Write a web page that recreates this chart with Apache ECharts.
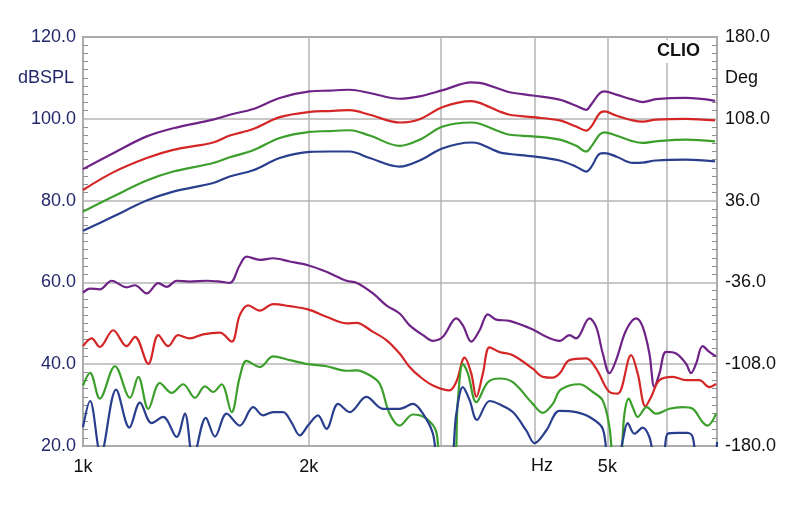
<!DOCTYPE html>
<html>
<head>
<meta charset="utf-8">
<script src="https://cdn.jsdelivr.net/npm/echarts@6/dist/echarts.min.js"></script>
<style>
  html, body { margin: 0; padding: 0; background: #fff; }
  #mChart { width: 800px; height: 505px; }
</style>
</head>
<body>
<div id="mChart"></div>
<script>
// frequency points (Hz) for the four response curves
var freqResp = [1000, 1097, 1216, 1319, 1491, 1569, 1686, 1829, 2006, 2133, 2267, 2411, 2643, 2810, 3018, 3293,
  3378, 3591, 3703, 3977, 4317, 4543, 4685, 4758, 4880, 4956, 5136, 5405, 5573, 5806, 6366, 6960];
// response curves, dBSPL
var respPurple = [87.7, 91.6, 95.7, 97.7, 99.8, 101.0, 102.4, 105.1, 106.7, 106.9, 107.1, 106.3, 104.9, 105.5, 107.0, 108.9,
  108.8, 107.3, 106.5, 105.7, 104.7, 103.2, 102.2, 103.5, 106.2, 106.7, 105.9, 104.7, 104.1, 104.8, 105.1, 104.4];
var respRed = [82.6, 86.9, 90.4, 92.4, 94.2, 95.9, 97.5, 100.4, 101.7, 101.9, 102.1, 101.0, 99.1, 99.9, 102.9, 104.3,
  103.9, 101.8, 101.0, 100.4, 99.6, 98.1, 97.1, 98.1, 101.3, 101.8, 100.8, 99.6, 99.3, 99.8, 100.0, 99.6];
var respGreen = [77.3, 81.0, 84.9, 87.1, 89.2, 90.6, 92.3, 95.3, 96.8, 97.0, 97.2, 95.9, 93.4, 94.9, 98.1, 99.1,
  98.8, 96.9, 96.1, 95.7, 94.9, 93.4, 92.0, 93.2, 96.1, 96.7, 95.9, 94.5, 94.1, 94.5, 94.9, 94.5];
var respBlue = [72.6, 76.1, 80.0, 82.2, 84.3, 85.9, 87.4, 90.4, 91.9, 92.0, 92.0, 90.4, 88.3, 89.8, 92.8, 94.2,
  93.9, 91.8, 91.4, 90.8, 89.8, 88.3, 87.1, 88.2, 91.4, 91.6, 90.8, 89.2, 89.3, 89.8, 90.0, 89.6];

// lower curves: [Hz, dB]
var lowPurple = [[1000,57.5],[1022,58.5],[1053,58.3],[1092,60.4],[1143,58.8],[1173,59.3],[1216,57.3],[1260,59.8],
  [1293,58.9],[1333,60.4],[1388,60.2],[1461,60.4],[1522,60.2],[1569,59.9],[1618,64.2],[1652,66.3],[1721,65.5],
  [1792,65.9],[1886,65.1],[1995,64.2],[2111,62.6],[2245,60.4],[2315,59.9],[2435,57.3],[2537,54.4],[2643,52.4],
  [2725,49.5],[2839,47.1],[2927,45.7],[3018,46.7],[3145,51.2],[3209,49.5],[3293,45.5],[3378,48.3],[3465,52.2],
  [3555,50.9],[3703,50.6],[3977,48.5],[4145,46.7],[4317,45.7],[4451,47.1],[4543,46.3],[4733,51.2],[4831,49.1],
  [4930,42.6],[5032,37.8],[5136,41.0],[5296,48.3],[5461,51.2],[5573,49.1],[5688,42.6],[5777,34.4],[5866,37.7],
  [5988,43.0],[6174,42.6],[6366,40.1],[6464,37.8],[6564,40.1],[6698,44.4],[6837,43.0],[6980,41.9]];
var lowRed = [[1000,44.4],[1027,46.3],[1053,44.2],[1097,48.3],[1143,44.4],[1173,46.7],[1222,40.1],[1260,47.1],
  [1299,44.4],[1339,47.1],[1388,46.3],[1446,47.3],[1522,47.7],[1578,45.5],[1618,52.0],[1660,54.4],[1721,53.1],
  [1792,54.7],[1886,54.2],[1995,53.4],[2111,51.6],[2245,50.0],[2315,50.1],[2435,47.9],[2537,45.9],[2643,42.6],
  [2725,39.3],[2810,37.0],[2927,34.8],[3081,33.6],[3145,35.7],[3226,41.6],[3293,37.7],[3344,32.0],[3412,37.7],
  [3483,44.1],[3591,43.0],[3741,42.2],[3977,38.9],[4101,36.9],[4229,36.7],[4317,37.7],[4451,41.0],[4685,41.4],
  [4831,38.9],[5032,33.2],[5161,32.8],[5378,42.2],[5488,37.7],[5619,29.7],[5718,32.0],[5866,36.1],[6110,36.9],
  [6366,36.1],[6630,36.1],[6837,34.4],[6980,35.2]];
var lowGreen = [[1000,34.8],[1022,37.9],[1053,31.6],[1103,39.5],[1155,31.8],[1185,36.9],[1222,29.1],[1266,35.4],
  [1313,33.0],[1360,35.1],[1410,31.8],[1454,34.6],[1491,33.2],[1530,35.1],[1578,28.3],[1618,36.9],[1652,40.8],
  [1721,39.3],[1792,41.9],[1886,41.0],[1995,40.0],[2111,39.5],[2245,38.4],[2315,38.5],[2411,37.3],[2486,35.2],
  [2563,27.9],[2643,25.0],[2753,27.7],[2869,26.7],[2958,23.4],[3003,13],[3112,13],[3160,31.1],[3209,40.1],
  [3259,37.7],[3344,30.7],[3465,35.6],[3591,36.5],[3741,35.6],[3977,30.3],[4101,28.1],[4229,30.3],[4317,33.5],
  [4451,34.8],[4590,35.1],[4781,33.2],[4930,31.1],[5032,24.6],[5109,15],[5188,15],[5269,27.9],[5339,31.6],
  [5405,29.5],[5488,27.1],[5642,29.5],[5806,27.9],[6048,29.1],[6300,29.5],[6496,29.1],[6698,25.8],[6802,25.0],
  [6980,27.9]];
var lowBlue = [[1000,24.6],[1022,31.0],[1056,18],[1107,33.8],[1153,24.5],[1191,30.6],[1234,25.6],[1279,27.1],
  [1333,22.2],[1367,27.9],[1402,17],[1458,26.9],[1499,22.3],[1554,27.9],[1618,25.0],[1686,29.5],[1738,27.5],
  [1792,28.3],[1848,28.3],[1896,25.8],[1945,22.6],[1995,25.0],[2057,27.5],[2111,24.2],[2188,30.3],[2267,28.3],
  [2386,32.0],[2511,29.1],[2643,29.1],[2753,30.3],[2839,27.9],[2927,23.0],[2988,14],[3081,14],[3145,27.9],
  [3209,34.4],[3276,31.2],[3350,26.4],[3483,31.0],[3591,30.2],[3741,28.3],[3898,23.8],[3998,20.7],[4145,23.8],
  [4317,28.6],[4543,28.3],[4733,27.1],[4930,24.2],[5032,14],[5136,14],[5242,21.4],[5322,25.6],[5433,23.0],
  [5573,24.5],[5688,22.2],[5806,16],[5925,16],[6016,23.0],[6204,23.2],[6397,23.2],[6496,22.2],[6630,14],
  [6906,14],[7000,21.0]];

var xGrid = [1000, 2000, 3000, 4000, 5000, 6000, 7000];
var xLabels = [1000, 2000, 5000];

var cPurple = '#6e2386', cRed = '#d42626', cGreen = '#3c9f2c', cBlue = '#293f8e';
var fontFam = '"Liberation Sans", Arial, sans-serif';

function pairs(xs, ys) {
  return xs.map(function (x, i) { return [x, ys[i]]; });
}
function line(name, data, color) {
  return {
    name: name, type: 'line', data: data, showSymbol: false, smooth: 0.35,
    lineStyle: { color: color, width: 2.2 }, itemStyle: { color: color }, clip: true
  };
}

var myChart = echarts.init(document.getElementById('mChart'));
myChart.setOption({
  backgroundColor: '#fff',
  animation: false,
  grid: { left: 83, right: 83, top: 37, bottom: 59, show: true, borderColor: '#8e8e8e', borderWidth: 2 },
  xAxis: {
    type: 'log', logBase: 10, min: 1000, max: 7000,
    axisLine: { show: false },
    axisTick: { show: false, customValues: xGrid },
    splitLine: { show: true, lineStyle: { color: '#b4b4b4', width: 1.5 } },
    axisLabel: {
      customValues: xLabels, color: '#111', fontSize: 18, fontFamily: fontFam, margin: 12,
      formatter: function (v) { return Math.round(v / 1000) + 'k'; }
    }
  },
  yAxis: [
    {
      type: 'value', min: 20, max: 120, interval: 20,
      axisLine: { show: false },
      axisTick: { show: false, inside: true },
      minorTick: { show: true, splitNumber: 10, length: 5, lineStyle: { color: '#8e8e8e' } },
      splitLine: { show: true, lineStyle: { color: '#b4b4b4', width: 1.5 } },
      axisLabel: { color: '#23286b', fontSize: 18, fontFamily: fontFam, margin: 7,
        formatter: function (v) { return v.toFixed(1); } }
    },
    {
      // phase scale shown on the right (-180..180 deg over the same span)
      type: 'value', position: 'right', min: 20, max: 120, interval: 20,
      axisLine: { show: false },
      axisTick: { show: false, inside: true },
      minorTick: { show: true, splitNumber: 10, length: 5, lineStyle: { color: '#8e8e8e' } },
      splitLine: { show: false },
      axisLabel: { color: '#111', fontSize: 18, fontFamily: fontFam, margin: 8,
        formatter: function (v) { return (-180 + (v - 20) * 3.6).toFixed(1); } }
    }
  ],
  graphic: [
    { type: 'text', left: 18, top: 69, style: { text: 'dBSPL', fill: '#23286b', font: '18px ' + fontFam } },
    { type: 'text', left: 725, top: 69, style: { text: 'Deg', fill: '#111', font: '18px ' + fontFam } },
    { type: 'text', left: 653, top: 40, z: 10,
      style: { text: 'CLIO', fill: '#111', font: 'bold 18px ' + fontFam, backgroundColor: '#fff', padding: [2, 4, 3, 4] } },
    { type: 'text', left: 531, top: 457, style: { text: 'Hz', fill: '#111', font: '18px ' + fontFam } }
  ],
  series: [
    line('resp1', pairs(freqResp, respPurple), cPurple),
    line('resp2', pairs(freqResp, respRed), cRed),
    line('resp3', pairs(freqResp, respGreen), cGreen),
    line('resp4', pairs(freqResp, respBlue), cBlue),
    line('low1', lowPurple, cPurple),
    line('low2', lowRed, cRed),
    line('low3', lowGreen, cGreen),
    line('low4', lowBlue, cBlue)
  ]
});
</script>
</body>
</html>
